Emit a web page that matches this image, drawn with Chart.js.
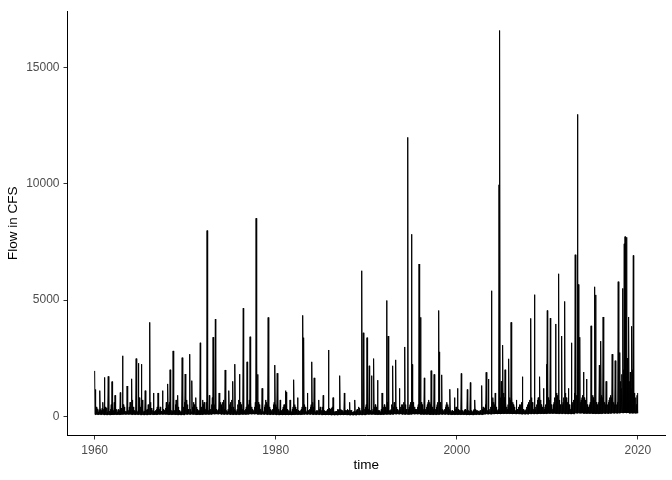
<!DOCTYPE html>
<html>
<head>
<meta charset="utf-8">
<script src="https://cdn.jsdelivr.net/npm/chart.js@4"></script>
<style>
  html, body { margin: 0; padding: 0; background: #ffffff; }
  #c { display: block; }
</style>
</head>
<body>
<canvas id="c" width="672" height="480"></canvas>
<script>
// Monthly peak flow readings (CFS), one row per year starting 1960
const startYear = 1960;
const flowByYear = [
  [1950,1150,400,250,320,190,280,1100,300,250,350,600],        // 1960
  [300,1670,400,200,350,190,1715,250,220,300,500,1490],        // 1961
  [400,250,600,900,200,300,180,250,300,250,1020,350],          // 1962
  [300,2600,500,400,200,220,190,1300,200,250,400,600],         // 1963
  [500,1610,700,400,300,250,200,2480,300,200,2280,800],        // 1964
  [600,400,2240,700,300,200,220,1100,250,280,300,500],         // 1965
  [400,4040,600,350,200,250,1000,200,200,250,300,400],         // 1966
  [1000,500,300,400,200,220,1100,300,250,200,350,600],         // 1967
  [400,1390,500,600,2000,300,250,200,2810,300,250,500],        // 1968
  [700,300,900,400,250,250,200,200,2520,300,400,600],          // 1969
  [1815,400,700,500,300,200,2670,300,200,1530,400,600],        // 1970
  [500,300,800,400,300,200,250,250,3160,300,400,700],          // 1971
  [500,600,400,300,600,7990,300,250,900,200,300,500],          // 1972
  [800,3400,600,500,4180,300,200,250,300,1000,400,600],        // 1973
  [500,400,600,700,300,1990,250,250,200,300,1100,500],         // 1974
  [600,400,700,1500,400,300,2240,250,200,300,500,700],         // 1975
  [1810,600,500,400,300,4650,200,250,300,400,2340,600],        // 1976
  [500,700,3420,600,400,300,200,250,400,600,8520,700],         // 1977
  [1800,600,500,400,300,200,1200,300,200,400,500,700],         // 1978
  [600,500,4250,500,400,300,200,250,300,500,600,2200],         // 1979
  [500,400,1850,400,300,200,700,200,250,300,400,500],          // 1980
  [400,1100,1035,300,250,250,200,700,250,200,300,400],         // 1981
  [1570,500,400,300,250,800,250,220,200,250,300,400],          // 1982
  [4340,3380,500,400,300,200,1000,250,200,300,400,500],        // 1983
  [2340,600,400,1650,300,200,250,220,250,700,300,400],         // 1984
  [300,250,400,900,200,250,220,200,250,300,2850,350],          // 1985
  [300,250,350,400,800,250,200,190,220,200,300,250],           // 1986
  [300,1745,300,250,200,250,200,1000,250,200,250,300],         // 1987
  [250,200,600,250,250,200,180,190,220,700,200,250],           // 1988
  [300,250,400,350,200,250,6260,250,3590,200,300,400],         // 1989
  [500,3380,400,300,2170,250,250,1745,200,300,2480,400],       // 1990
  [500,400,300,1550,250,200,250,200,300,1000,350,400],         // 1991
  [500,400,300,4980,600,3450,200,250,250,300,500,2170],        // 1992
  [400,600,500,2425,400,300,200,250,1200,300,400,500],         // 1993
  [500,400,600,2980,500,300,200,12000,300,400,500,600],        // 1994
  [7830,2230,600,500,400,300,200,300,400,500,6550,700],        // 1995
  [4255,600,500,400,300,1650,200,300,400,500,600,700],         // 1996
  [600,500,1960,500,400,300,1800,250,300,400,500,600],         // 1997
  [4550,2770,600,500,1780,300,200,250,300,400,500,600],        // 1998
  [500,400,300,1160,250,200,250,220,200,800,300,400],          // 1999
  [350,1200,300,250,200,250,1840,200,250,200,250,300],         // 2000
  [300,250,1150,200,250,220,1450,200,250,200,250,300],         // 2001
  [700,300,250,200,250,220,200,250,200,1320,300,400],          // 2002
  [400,350,500,1890,300,250,1600,200,300,400,5400,600],        // 2003
  [800,600,500,1000,400,300,250,300,9960,16600,800,1500],      // 2004
  [1200,3060,1000,800,2000,600,400,300,500,2470,800,700],      // 2005
  [4040,800,600,500,400,300,250,700,300,300,400,500],          // 2006
  [400,500,600,1700,300,250,250,250,300,400,500,600],          // 2007
  [500,700,4210,800,600,400,300,5230,300,400,500,700],         // 2008
  [800,600,1700,700,500,400,300,1200,300,400,500,2240],        // 2009
  [4550,800,600,700,4220,500,400,300,500,600,800,3970],        // 2010
  [1000,800,900,6130,700,500,400,3450,500,600,800,4940],       // 2011
  [1000,800,700,600,1200,500,400,300,3160,500,600,700],        // 2012
  [1000,6950,800,900,12990,5670,800,3400,600,700,800,900],     // 2013
  [1900,800,700,600,1600,500,400,300,500,600,3890,800],        // 2014
  [900,800,700,5570,5220,600,500,400,600,2200,800,3230],       // 2015
  [900,800,4270,700,600,500,1500,400,500,600,700,800],         // 2016
  [900,800,2670,700,600,500,2390,400,500,600,5790,1500],       // 2017
  [2740,1500,1200,1800,5500,2000,7420,7730,3000,7700,2500,1500], // 2018
  [4270,1500,1900,1200,3870,2000,6920,1000,600,800,500,900],   // 2019
  [1000]                                                       // 2020
];
// Low (base) flow between events, one value per year 1960-2020
const baseFlowByYear = [
  70,60,70,80,70,60,70,80,70,60,   // 1960s
  80,70,80,90,80,70,80,90,80,70,   // 1970s
  60,60,70,80,70,60,50,60,50,60,   // 1980s
  80,70,80,90,80,90,80,70,80,70,   // 1990s
  70,60,70,90,100,110,100,90,100,110, // 2000s
  120,110,100,130,120,110,120,130,140,130, // 2010s
  120                              // 2020
];
const xTickLabels = [1960, 1980, 2000, 2020];
const yTickLabels = [0, 5000, 10000, 15000];
const xTitle = 'time';
const yTitle = 'Flow in CFS';

// each month: its peak reading, then the year's base flow half a month later
const points = [];
flowByYear.forEach((row, yi) => {
  row.forEach((v, m) => {
    const t = startYear + yi + m / 12;
    points.push({ x: t, y: v });
    if (yi < flowByYear.length - 1) points.push({ x: t + 1 / 24, y: baseFlowByYear[yi] });
  });
});
const allFlows = points.map(p => p.y);
const xMinData = startYear;
const xMaxData = points[points.length - 1].x;
const yMaxData = Math.max(...allFlows);
const yMinData = 0;
const xr = xMaxData - xMinData, yr = yMaxData - yMinData;

const tickFont = { family: '"Liberation Sans", Arial, sans-serif', size: 12 };
const titleFont = { family: '"Liberation Sans", Arial, sans-serif', size: 13.5 };

new Chart(document.getElementById('c'), {
  type: 'line',
  data: {
    datasets: [{
      data: points,
      borderColor: '#000000',
      borderWidth: 1,
      pointRadius: 0,
      tension: 0,
      fill: false
    }]
  },
  options: {
    responsive: false,
    animation: false,
    parsing: false,
    normalized: true,
    layout: { padding: { top: 6, right: 7, left: 0, bottom: 0 } },
    plugins: { legend: { display: false }, tooltip: { enabled: false } },
    scales: {
      x: {
        type: 'linear',
        min: xMinData - 0.05 * xr,
        max: xMaxData + 0.05 * xr,
        afterBuildTicks: s => { s.ticks = xTickLabels.map(v => ({ value: v })); },
        afterFit: s => { s.height = 44.5; },
        ticks: {
          color: '#4d4d4d', font: tickFont, padding: 4, maxRotation: 0,
          callback: v => String(v)
        },
        grid: { drawOnChartArea: false, drawTicks: true, tickLength: 4, color: '#333333', lineWidth: 1 },
        border: { display: true, color: '#000000', width: 1 },
        title: { display: true, text: xTitle, color: '#000000', font: titleFont, padding: { top: 0, bottom: 7 } }
      },
      y: {
        type: 'linear',
        min: yMinData - 0.05 * yr,
        max: yMaxData + 0.05 * yr,
        afterBuildTicks: s => { s.ticks = yTickLabels.map(v => ({ value: v })); },
        afterFit: s => { s.width = 67.5; },
        ticks: {
          color: '#4d4d4d', font: tickFont, padding: 4,
          callback: v => String(v)
        },
        grid: { drawOnChartArea: false, drawTicks: true, tickLength: 4, color: '#333333', lineWidth: 1 },
        border: { display: true, color: '#000000', width: 1 },
        title: { display: true, text: yTitle, color: '#000000', font: titleFont, padding: { top: 5, bottom: 0 } }
      }
    }
  }
});
</script>
</body>
</html>
